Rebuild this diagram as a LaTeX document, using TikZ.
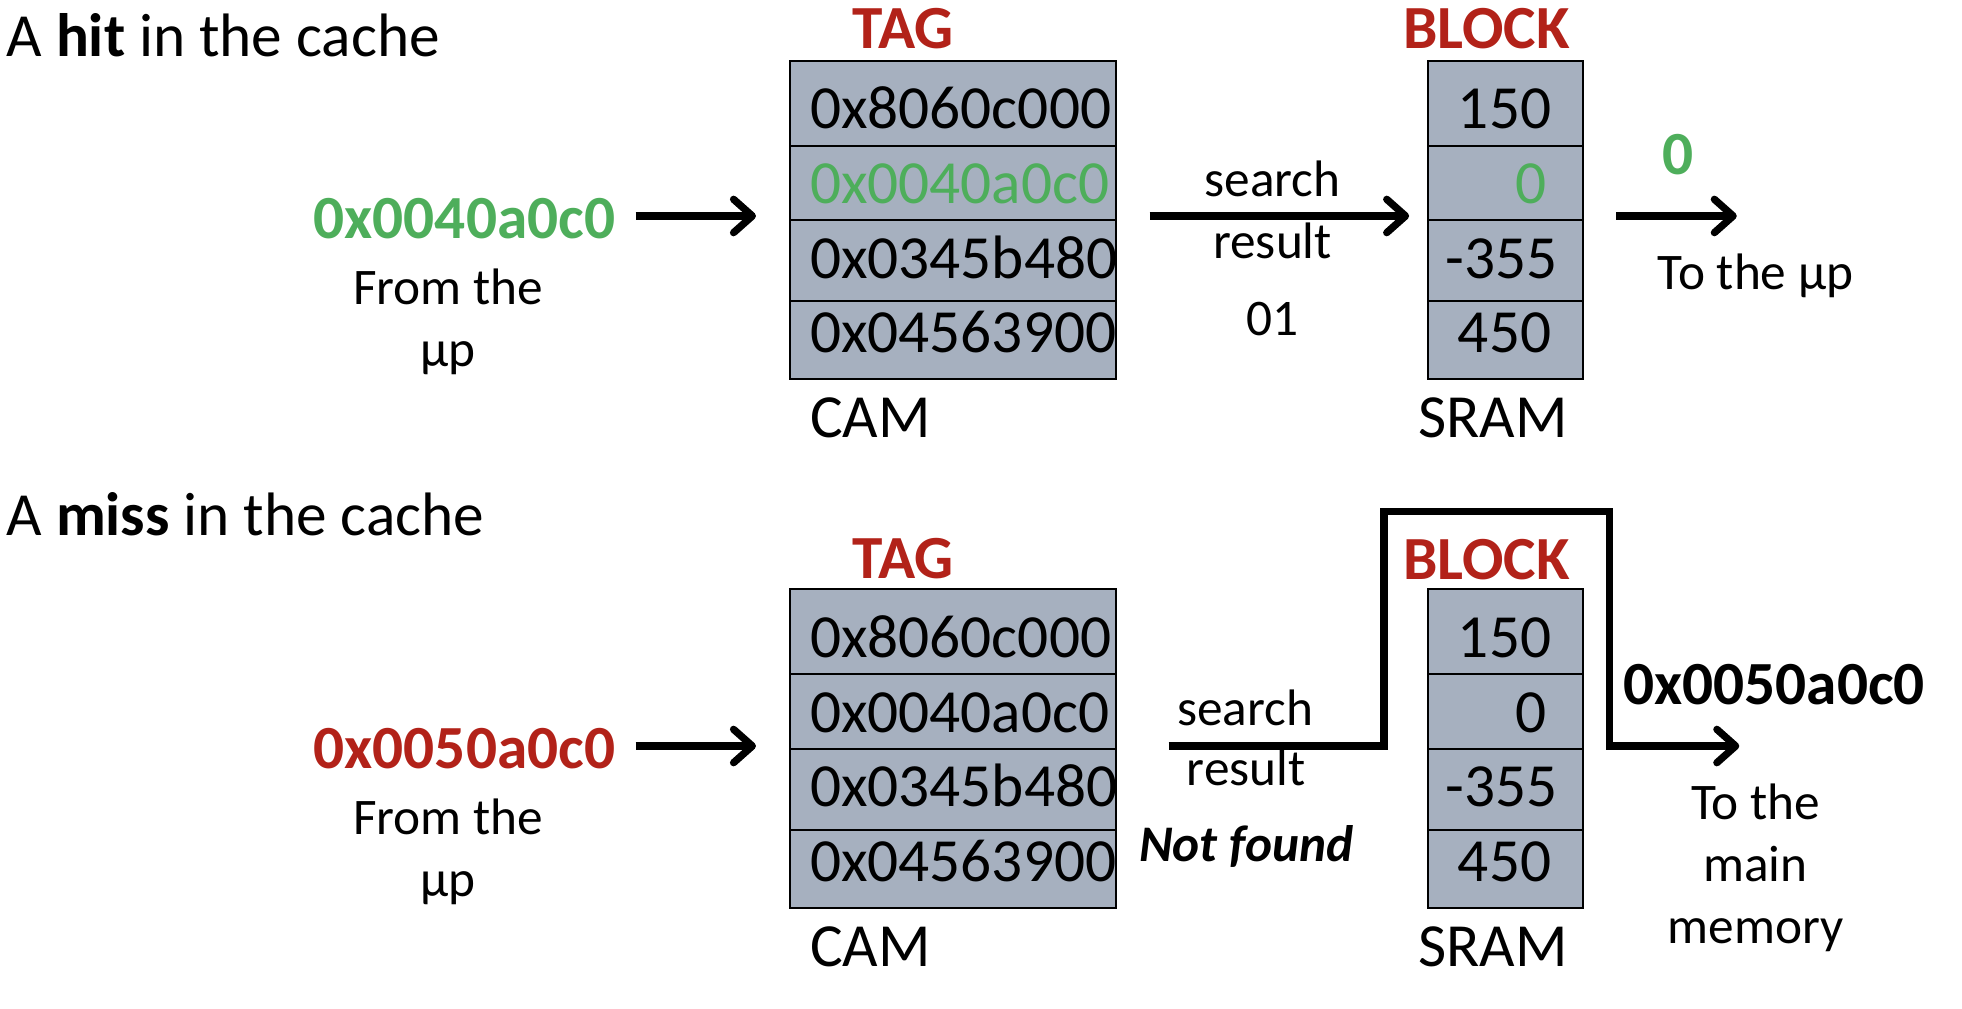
\documentclass[tikz,border=0pt]{standalone}
\usepackage{fontspec}
\setmainfont{Carlito}
\usetikzlibrary{arrows.meta}
\definecolor{cellfill}{HTML}{A6B0BF}
\definecolor{hitgreen}{HTML}{4EAE5B}
\definecolor{missred}{HTML}{B22219}

\begin{document}
\begin{tikzpicture}[x=0.6pt,y=-0.6pt,
  >={Straight Barb[length=9pt,width=16pt,round]},
  big/.style={font=\fontsize{29.4}{35}\selectfont},
  bigbold/.style={font=\fontsize{29.4}{35}\selectfont\bfseries},
  small/.style={font=\fontsize{24.6}{29.6}\selectfont},
  memory/.style={draw=black,fill=cellfill,line width=1pt,minimum height=152.6pt},
  flow/.style={line width=3.5pt},
  every node/.style={inner sep=0pt}]
  \useasboundingbox (0,0) rectangle (1568,806);

  % A hit: the tag is found in the CAM and the SRAM gives the block
  \node[big,anchor=base west] (hitTitle) at (5,45.3) {A \textbf{hit} in the cache};
  \node[bigbold,text=missred,anchor=base] (tagA) at (722,39) {TAG};
  \node[bigbold,text=missred,anchor=base] (blockA) at (1188,39) {BLOCK};

  \node[memory,minimum width=156.6pt] (camA) at (761.5,175.7) {};
  \node[memory,minimum width=74.4pt] (sramA) at (1203,175.7) {};
  \draw[line width=1pt] (631,116.4) -- (892,116.4)
    (631,175.8) -- (892,175.8) (631,240.5) -- (892,240.5);
  \draw[line width=1pt] (1141,116.4) -- (1265,116.4)
    (1141,175.8) -- (1265,175.8) (1141,240.5) -- (1265,240.5);

  \node[big,anchor=base west] (camA1) at (647,103) {0x8060c000};
  \node[big,anchor=base west,text=hitgreen] (camA2) at (647,162.5) {0x0040a0c0};
  \node[big,anchor=base west] (camA3) at (647,222.4) {0x0345b480};
  \node[big,anchor=base west] (camA4) at (647,282) {0x04563900};
  \node[big,anchor=base east] (sramA1) at (1240,103) {150};
  \node[big,anchor=base east,text=hitgreen] (sramA2) at (1236,162.5) {0};
  \node[big,anchor=base east] (sramA3) at (1245,222.4) {-355};
  \node[big,anchor=base east] (sramA4) at (1240,282) {450};
  \node[big,anchor=base west] (camAname) at (647,350) {CAM};
  \node[big,anchor=base] (sramAname) at (1193,350) {SRAM};

  \node[bigbold,text=hitgreen,anchor=base east] (addrA) at (492,190.5) {0x0040a0c0};
  \node[small,anchor=base,align=center] (fromA) at (358,293) {From the\\μp};
  \coordinate (lineA) at (0,172.6);
  \coordinate (outA) at (1388,172.6);
  \draw[flow,->,shorten <=9.6pt,shorten >=15.6pt] (addrA.east |- lineA) -- (camA.west |- lineA);
  \draw[flow,->,shorten <=15.6pt,shorten >=8.4pt] (camA.east |- lineA) -- (sramA.west |- lineA);
  \draw[flow,->,shorten <=15.6pt] (sramA.east |- lineA) -- (outA);

  \node[small,anchor=base] (searchA) at (1017,157) {search};
  \node[small,anchor=base] (resultA) at (1017,206.5) {result};
  \node[small,anchor=base] (indexA) at (1017,268.5) {01};
  \node[bigbold,text=hitgreen,anchor=base] (dataA) at (1341,139.8) {0};
  \node[small,anchor=base] (toA) at (1403,231) {To the μp};

  % A miss: the address goes on to the main memory
  \node[big,anchor=base west] (missTitle) at (5,427.6) {A \textbf{miss} in the cache};
  \node[bigbold,text=missred,anchor=base] (tagB) at (722,462) {TAG};
  \node[bigbold,text=missred,anchor=base] (blockB) at (1188,463) {BLOCK};

  \node[memory,minimum width=156.6pt] (camB) at (761.5,598.2) {};
  \node[memory,minimum width=74.4pt] (sramB) at (1203,598.2) {};
  \draw[line width=1pt] (631,538.9) -- (892,538.9)
    (631,598.3) -- (892,598.3) (631,663) -- (892,663);
  \draw[line width=1pt] (1141,538.9) -- (1265,538.9)
    (1141,598.3) -- (1265,598.3) (1141,663) -- (1265,663);

  \node[big,anchor=base west] (camB1) at (647,525.5) {0x8060c000};
  \node[big,anchor=base west] (camB2) at (647,585) {0x0040a0c0};
  \node[big,anchor=base west] (camB3) at (647,644.9) {0x0345b480};
  \node[big,anchor=base west] (camB4) at (647,704.5) {0x04563900};
  \node[big,anchor=base east] (sramB1) at (1240,525.5) {150};
  \node[big,anchor=base east] (sramB2) at (1236,585) {0};
  \node[big,anchor=base east] (sramB3) at (1245,644.9) {-355};
  \node[big,anchor=base east] (sramB4) at (1240,704.5) {450};
  \node[big,anchor=base west] (camBname) at (647,772.5) {CAM};
  \node[big,anchor=base] (sramBname) at (1193,772.5) {SRAM};

  \node[bigbold,text=missred,anchor=base east] (addrB) at (492,614) {0x0050a0c0};
  \node[small,anchor=base,align=center] (fromB) at (358,716.6) {From the\\μp};
  \coordinate (lineB) at (0,596.2);
  \coordinate (upL) at (1106,409);
  \coordinate (upR) at (1286,409);
  \coordinate (outB) at (1390,596.2);
  \draw[flow,->,shorten <=9.6pt,shorten >=15.6pt] (addrB.east |- lineB) -- (camB.west |- lineB);
  \draw[flow,->,shorten <=24.6pt] (camB.east |- lineB) -- (upL |- lineB)
    -- (upL) -- (upR) -- (upR |- lineB) -- (outB);

  \node[small,anchor=base] (searchB) at (995,579.4) {search};
  \node[small,anchor=base] (resultB) at (996,627.4) {result};
  \node[small,anchor=base,font=\fontsize{24.6}{29.6}\selectfont\bfseries\itshape] (notFound) at (996,688.6) {Not found};
  \node[bigbold,anchor=base west] (addrOut) at (1297,563.4) {0x0050a0c0};
  \node[small,anchor=base,align=center] (toB) at (1403,753.9) {To the\\main\\memory};
\end{tikzpicture}
\end{document}
